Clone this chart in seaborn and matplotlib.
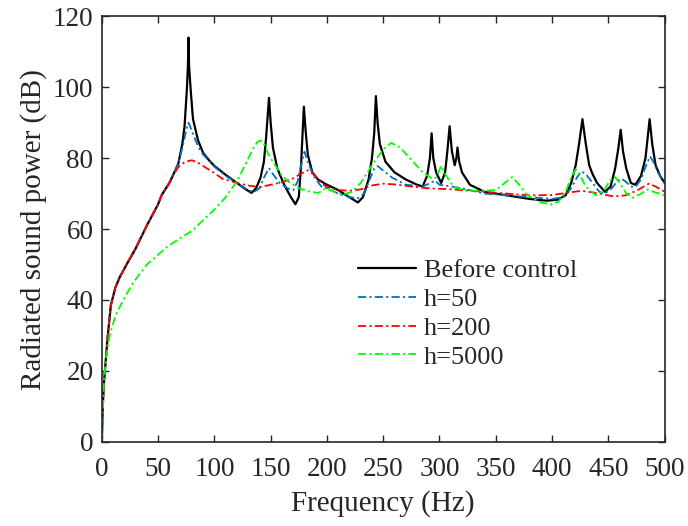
import matplotlib
matplotlib.use('Agg')
import matplotlib.pyplot as plt
import seaborn as sns
import pandas as pd

sns.set_style('ticks')
plt.rcParams['font.family'] = ['Liberation Serif', 'DejaVu Serif']

# before control (Hz, dB)
f_before = [0, 1, 2, 3, 5, 8, 12, 16, 22, 30, 40, 50, 53, 60, 63, 68, 71.5, 73.5, 75.5, 76.5, 77,
            77.5, 79, 81, 85.5, 90, 95, 100, 110, 120, 128, 133, 137, 141, 144, 146, 148.5, 150,
            152, 156, 162, 168, 172, 175, 177, 179.5, 181, 183, 187, 192, 200, 210, 220, 227.5,
            232, 237, 240, 242, 243.5, 245, 247, 252, 260, 270, 280, 285, 289, 291.5, 293, 294.5,
            297, 301.5, 305, 307, 309, 311, 313.5, 315, 316, 317.5, 320, 327, 340, 360, 380, 395,
            405, 412, 417, 421, 424, 427, 430, 433, 436, 440, 447, 452, 456, 459, 461, 463, 466,
            470, 474, 479, 483, 486.7, 489, 492, 496, 500]
db_before = [0, 11, 17, 21, 29, 38.5, 43.5, 46.5, 50, 54.5, 61, 67, 69.5, 73, 75, 78.5, 84, 89,
             99, 106, 114, 106, 99, 91, 85, 81.5, 79.5, 77.8, 75.3, 73, 71.2, 70.2, 71.5, 74.5, 79,
             86, 97, 90, 83, 77, 72.5, 69, 67, 69, 78, 94.5, 88, 81, 76, 74, 72.5, 71, 69, 67.5,
             69, 74, 80, 87, 97.5, 90, 84, 79, 76, 74, 72.5, 72, 75, 80, 87, 80, 76, 73, 76, 82,
             89, 82, 78, 80, 83, 79, 76, 72.5, 70.5, 69.5, 68.5, 68, 68.3, 69.5, 73, 78, 84, 91,
             84, 78, 75.5, 73, 70.5, 72, 77, 83, 88, 82, 77, 73, 72.5, 75, 80, 91, 84, 78, 75, 73]

# h=50
f_h50 = [0, 1, 2, 3, 5, 8, 12, 16, 22, 30, 40, 50, 53, 60, 63, 68, 72, 74, 75.5, 77, 79, 82, 86,
         90, 100, 110, 120, 130, 135, 140, 144, 148.5, 152, 158, 165, 170, 174, 177, 180, 183,
         188, 195, 200, 210, 220, 227.5, 233, 238, 242, 245, 250, 258, 270, 285, 292, 296, 300,
         310, 320, 340, 360, 380, 400, 410, 417, 422, 426, 430, 436, 442, 447, 453, 458, 461.5,
         465, 470, 474, 479, 483, 487, 490, 494, 500]
db_h50 = [0, 11, 17, 21, 29, 38.5, 43.5, 46.5, 50, 54.5, 61, 67, 69.5, 73, 75, 78.5, 83.5, 86.5,
          88.5, 90, 88.5, 86, 83, 81, 77.6, 75, 73, 71, 70.4, 71.5, 74.5, 77.2, 75.5, 73, 71.5,
          70.9, 73.5, 78, 81.8, 79, 75, 72, 71.5, 70, 69, 68.7, 70, 74, 77, 77.8, 76.5, 74.5,
          72.5, 72, 73, 73.7, 72.5, 72, 71.5, 70, 69.5, 69, 68.5, 69, 71.5, 74.5, 76.3, 75.5,
          73, 70.5, 70, 71.5, 73.5, 74.2, 73.5, 72, 71.8, 74, 77.5, 80.5, 79, 76, 73]

# h=200
f_h200 = [0, 1, 2, 3, 5, 8, 12, 16, 22, 30, 40, 50, 53, 60, 63, 68, 74, 80, 85, 90, 100, 107,
          120, 130, 140, 150, 160, 170, 178, 183, 188, 195, 200, 210, 220, 230, 240, 250, 260,
          275, 290, 305, 320, 340, 360, 380, 400, 415, 426, 435, 445, 455, 465, 475, 486, 492, 500]
db_h200 = [0, 11, 17, 21, 29, 38.5, 43.5, 46.5, 50, 54.5, 61, 67, 69.5, 73, 75, 77.5, 79, 79.4,
           78.8, 77.8, 75.8, 74.2, 73, 72.3, 71.8, 72.5, 73.2, 74.3, 75.8, 76.6, 75.5, 73, 71.8,
           71, 70.8, 71.2, 72.3, 72.8, 72.6, 72, 71.5, 71.3, 71, 70.5, 70, 69.5, 69.6, 70.3,
           70.8, 70.4, 69.8, 69.2, 69.5, 70.8, 72.8, 72, 70.5]

# h=5000
f_h5000 = [0, 1, 2, 4, 7, 12, 19, 28, 40, 58, 70, 80, 90, 100, 110, 120, 128, 134, 138, 141,
           144, 148, 155, 160, 166, 175, 185, 192.5, 198.5, 204, 214, 222, 230, 240, 250, 257,
           265, 275, 285, 292, 296, 299, 301.5, 305, 313, 325, 340, 350, 358, 364.6, 370, 378,
           390, 399, 406, 412, 417, 421, 425, 430, 439, 446, 451, 455.6, 460, 466, 471.6, 478,
           485, 490, 500]
db_h5000 = [0, 10, 18, 24, 30, 35.5, 40, 45, 50, 55, 57.5, 59.5, 62.5, 65.5, 69, 73.5, 78.5,
            82.5, 84.5, 85, 84, 81, 77.5, 75, 73.3, 71.5, 70.5, 70.2, 71.4, 70.8, 69.7, 70.5, 73,
            78, 82.5, 84.3, 83, 79.5, 76, 74.5, 74.2, 76, 77.8, 75.5, 71.7, 70.8, 70.8, 71, 73,
            74.7, 72.8, 69.5, 67.5, 66.9, 67.8, 70.5, 74.5, 76.9, 75, 72, 69.5, 70.8, 73.5, 74.8,
            73, 70, 68.8, 69.8, 71.2, 70.5, 69.5]

dashdot = (0, (4.5, 1.8, 1.2, 1.8))
series = [
    ('Before control', f_before, db_before, 'black', '-', 1.6),
    ('h=50', f_h50, db_h50, '#0072BD', dashdot, 1.3),
    ('h=200', f_h200, db_h200, '#FF0000', dashdot, 1.3),
    ('h=5000', f_h5000, db_h5000, '#00FF00', dashdot, 1.3),
]

fig = plt.figure(figsize=(6.88, 5.26), dpi=100)
ax = fig.add_axes([0.148, 0.160, 0.818, 0.809])

for name, f, db, col, ls, lw in series:
    df = pd.DataFrame({'f': f, 'db': db})
    sns.lineplot(data=df, x='f', y='db', ax=ax, color=col, linestyle=ls, linewidth=lw,
                 label=name, sort=False, estimator=None)

ax.set_xlim(0, 500)
ax.set_ylim(0, 120)
ax.set_xticks(range(0, 501, 50))
ax.set_yticks(range(0, 121, 20))
ax.set_xlabel('Frequency (Hz)', fontsize=21, labelpad=6)
ax.set_ylabel('Radiated sound power (dB)', fontsize=21, labelpad=4)
ax.tick_params(direction='in', top=True, right=True, labelsize=19.5, length=5,
               width=1, color='#262626', pad=6)
ax.tick_params(axis='x', pad=11)
for s in ax.spines.values():
    s.set_color('#262626')
    s.set_linewidth(1.2)

ax.legend(loc='upper left', bbox_to_anchor=(0.455, 0.43), frameon=False, fontsize=19,
          handlelength=2.2, handletextpad=0.3, labelspacing=0.2, borderaxespad=0,
          borderpad=0)

fig.savefig('out.png', dpi=100)
